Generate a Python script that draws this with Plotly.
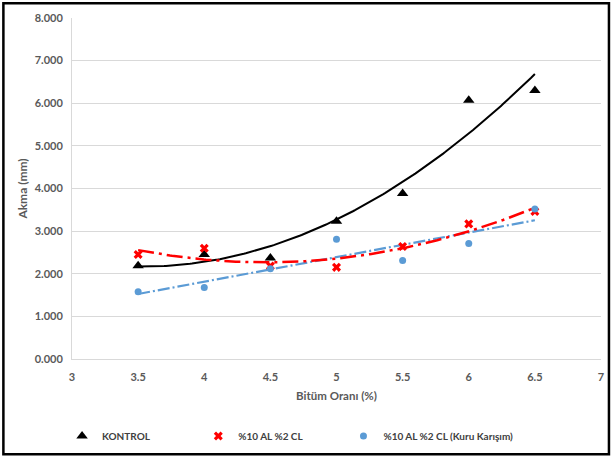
import numpy as np
import plotly.graph_objects as go

x_vals = [3.5, 4.0, 4.5, 5.0, 5.5, 6.0, 6.5]
kontrol = [2.19, 2.45, 2.37, 3.23, 3.88, 6.07, 6.30]
al_cl = [2.45, 2.60, 2.18, 2.15, 2.64, 3.17, 3.46]
al_cl_kuru = [1.58, 1.68, 2.12, 2.81, 2.31, 2.71, 3.52]

names = ["KONTROL", "%10 AL %2 CL", "%10 AL %2 CL (Kuru Karışım)"]
x_ticks = [3, 3.5, 4, 4.5, 5, 5.5, 6, 6.5, 7]
y_ticks = [0, 1, 2, 3, 4, 5, 6, 7, 8]

xs = np.linspace(3.5, 6.5, 200)
p_k = np.polyfit(x_vals, kontrol, 2)
p_r = np.polyfit(x_vals, al_cl, 2)
p_b = np.polyfit(x_vals, al_cl_kuru, 1)

font_fam = "Lato, 'Open Sans', sans-serif"
fig = go.Figure()

# trendlines
fig.add_trace(go.Scatter(x=xs, y=np.polyval(p_k, xs), mode="lines",
                         line=dict(color="black", width=2), showlegend=False, hoverinfo="skip"))
fig.add_trace(go.Scatter(x=xs, y=np.polyval(p_b, xs), mode="lines",
                         line=dict(color="#5B9BD5", width=2.2, dash="12px,3px,2px,3px"), showlegend=False, hoverinfo="skip"))
fig.add_trace(go.Scatter(x=xs, y=np.polyval(p_r, xs), mode="lines",
                         line=dict(color="#FF0000", width=2.5, dash="16px,5px,3px,5px"), showlegend=False, hoverinfo="skip"))

# markers
fig.add_trace(go.Scatter(x=x_vals, y=kontrol, mode="markers", name=names[0], legend="legend",
                         marker=dict(symbol="triangle-up", size=10, color="black")))
fig.add_trace(go.Scatter(x=x_vals, y=al_cl, mode="markers", name=names[1], legend="legend2",
                         marker=dict(symbol="x", size=8, color="#FF0000")))
fig.add_trace(go.Scatter(x=x_vals, y=al_cl_kuru, mode="markers", name=names[2], legend="legend3",
                         marker=dict(symbol="circle", size=7, color="#5B9BD5")))

W, H = 615, 462
L, R, T, B = 72, 11, 18, 100
pw, ph = W - L - R, H - T - B

def px_to_paper_x(p):
    return (p - L) / pw

def px_to_paper_y(p):
    return (H - B - p) / ph

def leg(xpx):
    return dict(orientation="h", x=px_to_paper_x(xpx), y=px_to_paper_y(425),
                yanchor="top", xanchor="left", itemwidth=30,
                font=dict(family=font_fam, size=10, color="#404040", weight="bold"),
                bgcolor="rgba(0,0,0,0)")

fig.update_layout(
    width=W, height=H,
    margin=dict(l=L, r=R, t=T, b=B, pad=0),
    paper_bgcolor="white", plot_bgcolor="white",
    font=dict(family=font_fam, color="#595959", size=11),
    xaxis=dict(range=[3, 7], tickvals=x_ticks, ticktext=[str(v) for v in x_ticks],
               showgrid=False, showline=True, linecolor="#D9D9D9", linewidth=1,
               ticks="", zeroline=False, ticklabelstandoff=8,
               tickfont=dict(family=font_fam, size=11, color="#595959", weight="bold"),
               title=dict(text="<b>Bitüm Oranı (%)</b>", font=dict(size=11.5, color="#595959"), standoff=9)),
    yaxis=dict(range=[0, 8], tickvals=y_ticks, tickformat=".3f",
               showgrid=True, gridcolor="#D9D9D9", gridwidth=1,
               showline=True, linecolor="#D9D9D9", linewidth=1, zeroline=False, ticks="",
               ticklabelstandoff=6,
               tickfont=dict(family=font_fam, size=11, color="#595959", weight="bold"),
               title=dict(text="<b>Akma (mm)</b>", font=dict(size=12, color="#595959"), standoff=4)),
    legend=leg(62),
    legend2=leg(199),
    legend3=leg(345),
    shapes=[dict(type="rect", xref="paper", yref="paper",
                 x0=px_to_paper_x(3), x1=px_to_paper_x(612),
                 y0=px_to_paper_y(458), y1=px_to_paper_y(3),
                 line=dict(color="black", width=2.5), fillcolor="rgba(0,0,0,0)", layer="above")],
)

fig.write_html("out.html")
